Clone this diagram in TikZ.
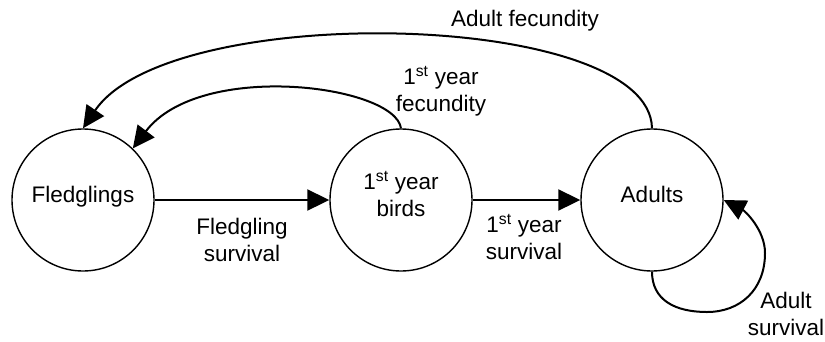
\documentclass[tikz,border=0pt]{standalone}
\usepackage{fontspec}
\setmainfont{Liberation Sans}
\usetikzlibrary{arrows.meta}
\begin{document}
\begin{tikzpicture}[x=1pt,y=-1pt,
  state/.style={circle,draw,line width=1.4pt,minimum size=142pt,inner sep=0pt,align=center,text depth=12pt},
  lab/.style={align=center,inner sep=0pt},
  flow/.style={line width=2pt,-{Triangle[length=22pt,width=21pt]}},
  font=\fontsize{22.5}{27}\selectfont]
\useasboundingbox (0,0) rectangle (825,341);
\node[state] (fl) at (83,200) {Fledglings};
\node[state] (bi) at (401,200) {1\textsuperscript{st} year\\birds};
\node[state] (ad) at (652,200) {Adults};
\draw[flow] (fl) -- (bi);
\draw[flow] (bi) -- (ad);
\draw[flow] (bi.north) .. controls (395,85) and (200,60) .. (fl.46);
\draw[flow] (ad.north) .. controls (650,10) and (170,0) .. (fl.north);
\draw[flow] (ad.south) .. controls (652,300) and (675,312) .. (707,312)
  .. controls (740,312) and (765,290) .. (765,253)
  .. controls (765,230) and (745,211) .. (ad.east);
\node[lab] (lfs) at (242,240) {Fledgling\\survival};
\node[lab] (lys) at (524,237) {1\textsuperscript{st} year\\survival};
\node[lab] (lyf) at (441,91) {1\textsuperscript{st} year\\fecundity};
\node[lab] (laf) at (525,21) {Adult fecundity};
\node[lab] (las) at (786,313.5) {Adult\\survival};
\end{tikzpicture}
\end{document}
